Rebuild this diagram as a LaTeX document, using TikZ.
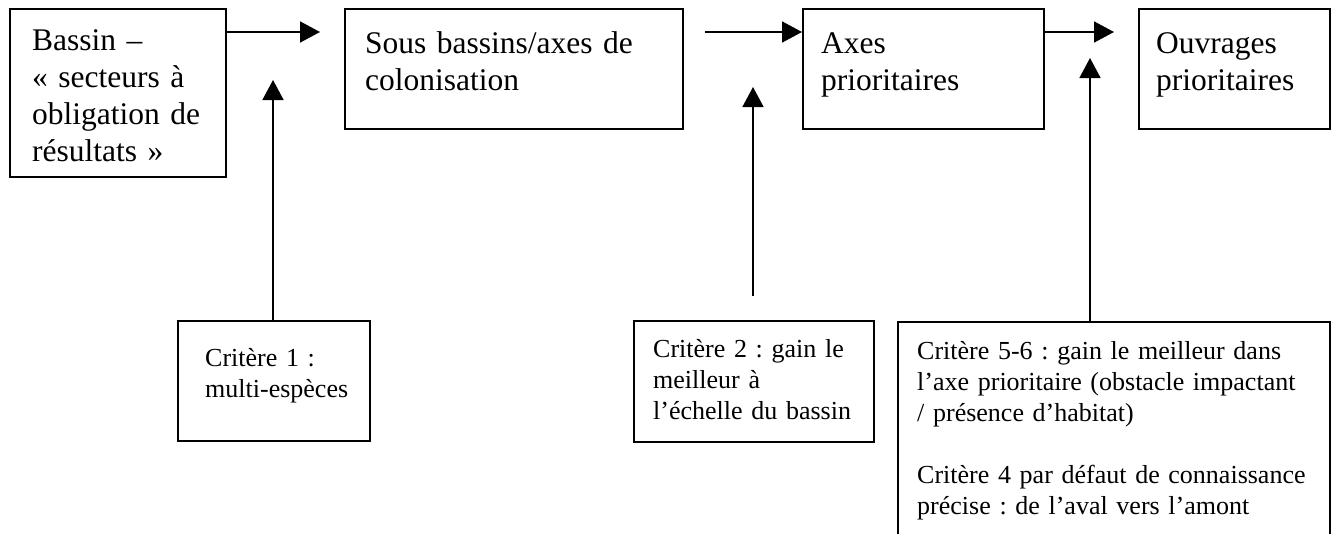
\documentclass[tikz,border=0pt]{standalone}
\usepackage{fontspec}
\setmainfont{Liberation Serif}
\usetikzlibrary{arrows.meta}
\frenchspacing

\begin{document}
\begin{tikzpicture}[x=1pt,y=-1pt,
  cadre/.style={draw,line width=1.6pt,inner sep=0pt,anchor=north west},
  grand/.style={anchor=base west,inner sep=0pt,align=left,font=\fontsize{31.5}{37}\selectfont},
  petit/.style={anchor=base west,inner sep=0pt,align=left,font=\fontsize{26}{31}\selectfont},
  fleche/.style={line width=1.6pt,-{Triangle[length=20pt,width=21pt]}}]
\useasboundingbox (0,0) rectangle (1337,533);
\clip (0,0) rectangle (1337,533);
\begin{scope}
\node[cadre,minimum width=216pt,minimum height=168pt] (bassin) at (9,8) {};
\node[cadre,minimum width=338pt,minimum height=120pt] (sousbassins) at (344,8) {};
\node[cadre,minimum width=241pt,minimum height=120pt] (axes) at (802,8) {};
\node[cadre,minimum width=191pt,minimum height=120pt] (ouvrages) at (1138,8) {};
\node[cadre,minimum width=192pt,minimum height=120pt] (crit1) at (177,320) {};
\node[cadre,minimum width=240pt,minimum height=121pt] (crit2) at (633,320) {};
\node[cadre,minimum width=432pt,minimum height=260pt] (crit3) at (897,321) {};
\end{scope}
\begin{scope}
\node[grand,text width=190pt] (bassintxt) at (32,50) {Bassin –\\« secteurs à\\obligation de\\résultats »};
\node[grand,text width=310pt] (sousbassinstxt) at (365,53) {Sous bassins/axes de\\colonisation};
\node[grand,text width=215pt] (axestxt) at (821,53) {Axes\\prioritaires};
\node[grand,text width=170pt] (ouvragestxt) at (1156,53) {Ouvrages\\prioritaires};
\node[petit,text width=160pt] (crit1txt) at (205,366) {Critère 1 :\\multi-espèces};
\node[petit,text width=215pt] (crit2txt) at (653,357) {Critère 2 : gain le\\meilleur à\\l’échelle du bassin};
\node[petit,text width=410pt] (crit3txt) at (917,359) {Critère 5-6 : gain le meilleur dans\\l’axe prioritaire (obstacle impactant\\/ présence d’habitat)\\[31pt]Critère 4 par défaut de connaissance\\précise : de l’aval vers l’amont};
\end{scope}
\begin{scope}
\coordinate (t1) at (320,32);
\coordinate (d2) at (705,32);
\coordinate (t3) at (1114,32);
\coordinate (h1) at (273,80);
\coordinate (b2) at (753,296);
\coordinate (h2) at (753,87);
\coordinate (h3) at (1090,58);
\draw[fleche] (bassin.east |- t1) -- (t1);
\draw[fleche] (d2) -- (d2 -| axes.west);
\draw[fleche] (axes.east |- t3) -- (t3);
\draw[fleche] (h1 |- crit1.north) -- (h1);
\draw[fleche] (b2) -- (h2);
\draw[fleche] (h3 |- crit3.north) -- (h3);
\end{scope}
\end{tikzpicture}
\end{document}
